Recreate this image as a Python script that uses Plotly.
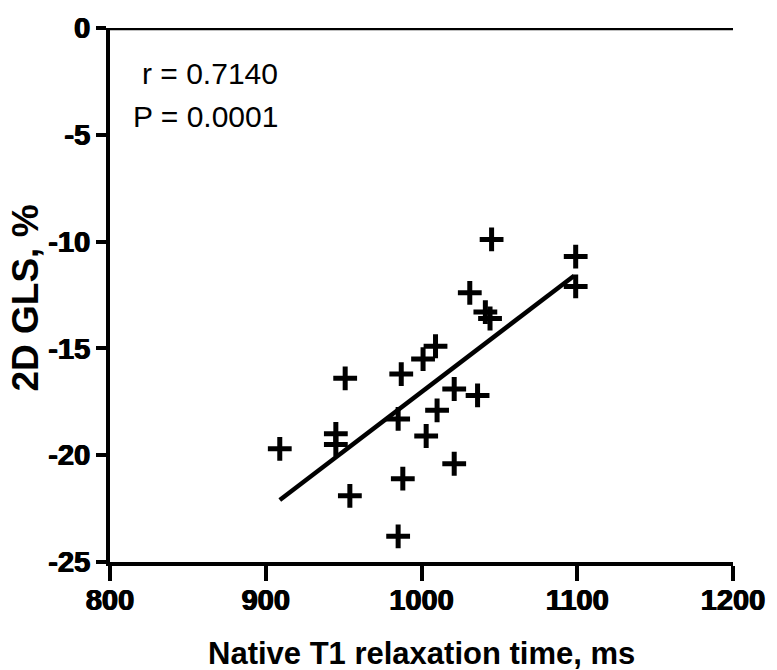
import plotly.graph_objects as go

# Data
t1_ms = [909, 945, 945, 951, 954, 985, 987, 988, 985, 1001, 1003, 1009, 1010,
         1021, 1021, 1031, 1036, 1041, 1044, 1045, 1099, 1099]
gls_pct = [-19.7, -19.0, -19.5, -16.4, -21.9, -18.3, -16.2, -21.1, -23.8, -15.5,
           -19.1, -14.9, -17.9, -16.9, -20.4, -12.4, -17.2, -13.3, -13.6, -9.9,
           -10.7, -12.1]
fit_x = [909, 1098]
fit_y = [-22.1, -11.6]
x_ticks = [800, 900, 1000, 1100, 1200]
y_ticks = [0, -5, -10, -15, -20, -25]
stats_lines = ["r = 0.7140", "P = 0.0001"]

FONT = "Liberation Sans, Arial, sans-serif"
HEAVY = "0.6px 0 0 black, -0.6px 0 0 black"

fig = go.Figure()
fig.add_trace(go.Scatter(x=fit_x, y=fit_y, mode="lines",
                         line=dict(color="black", width=4.5),
                         hoverinfo="skip", showlegend=False))
fig.add_trace(go.Scatter(x=t1_ms, y=gls_pct, mode="markers",
                         marker=dict(symbol="cross-thin", size=17,
                                     line=dict(color="black", width=5)),
                         cliponaxis=False, showlegend=False))

# horizontal zero line at top
fig.add_shape(type="line", xref="x", yref="y", x0=800, x1=1202, y0=0, y1=0,
              line=dict(color="black", width=4.5), layer="above")

fig.update_xaxes(range=[800, 1200], tickvals=x_ticks,
                 ticktext=["<b>%d</b>" % v for v in x_ticks],
                 showline=True, linecolor="black", linewidth=4,
                 ticks="outside", ticklen=15, tickwidth=4, tickcolor="black",
                 ticklabelstandoff=-6,
                 tickfont=dict(family=FONT, size=29, color="black", weight=700, shadow=HEAVY),
                 showgrid=False, zeroline=False)
fig.update_yaxes(range=[-25, 0], tickvals=y_ticks,
                 ticktext=["<b>%d</b>" % v for v in y_ticks],
                 showline=True, linecolor="black", linewidth=4,
                 ticks="outside", ticklen=10, tickwidth=4, tickcolor="black",
                 tickfont=dict(family=FONT, size=29, color="black", weight=700, shadow=HEAVY),
                 showgrid=False, zeroline=False)

fig.add_annotation(text="<b>Native T1 relaxation time, ms</b>", xref="paper", yref="paper",
                   x=0.5, y=-0.1707, xanchor="center", yanchor="middle", showarrow=False,
                   font=dict(family=FONT, size=31, color="black"))
fig.add_annotation(text="<b>2D GLS, %</b>", xref="paper", yref="paper",
                   x=-0.135, y=0.495, xanchor="center", yanchor="middle", showarrow=False,
                   textangle=-90,
                   font=dict(family=FONT, size=37, color="black"))
fig.add_annotation(text=stats_lines[0], xref="paper", yref="paper",
                   x=0.273, y=0.915, xanchor="right", yanchor="middle", showarrow=False,
                   font=dict(family=FONT, size=30, color="black"))
fig.add_annotation(text=stats_lines[1], xref="paper", yref="paper",
                   x=0.273, y=0.835, xanchor="right", yanchor="middle", showarrow=False,
                   font=dict(family=FONT, size=30, color="black"))

fig.update_layout(width=777, height=670, margin=dict(l=110, r=37, t=23, b=108),
                  paper_bgcolor="white", plot_bgcolor="white")

fig.write_html("out.html")
